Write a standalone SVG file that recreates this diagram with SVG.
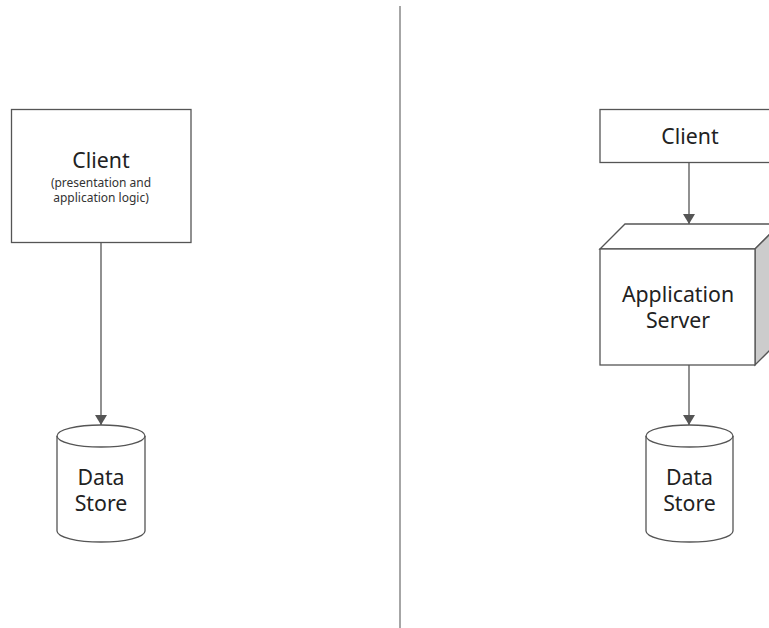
<svg xmlns="http://www.w3.org/2000/svg" width="769" height="628" viewBox="0 0 769 628">
  <defs>
    <marker id="arrow" markerWidth="10" markerHeight="12" refX="10" refY="6" orient="auto" markerUnits="userSpaceOnUse">
      <path d="M0,0 L10,6 L0,12 Z" fill="#555"/>
    </marker>
    <style>
      .box { fill: #fff; stroke: #555; stroke-width: 1.3; }
      .side { fill: #ccc; stroke: #555; stroke-width: 1.3; }
      .edge { fill: none; stroke: #555; stroke-width: 1.3; }
      .label { font-family: "Noto Sans", "Open Sans", sans-serif; fill: #222; text-anchor: middle; }
      .big { font-size: 21.3px; }
      .small { font-size: 12px; fill: #333; }
    </style>
  </defs>
  <rect width="769" height="628" fill="#fff"/>

  <!-- divider between the two architectures -->
  <line x1="400" y1="6" x2="400" y2="628" stroke="#888" stroke-width="1.5"/>

  <!-- two-tier: client -->
  <g id="left-client">
    <rect class="box" x="11.5" y="109.5" width="179.5" height="133"/>
    <text class="label big" x="101" y="168">Client</text>
    <text class="label small" x="101" y="187">(presentation and</text>
    <text class="label small" x="101" y="202">application logic)</text>
  </g>

  <!-- two-tier: data store -->
  <g id="left-store">
    <path class="box" d="M57,436 A44,11 0 0 1 145,436 L145,531 A44,11 0 0 1 57,531 Z"/>
    <path class="edge" d="M57,436 A44,11 0 0 0 145,436"/>
    <text class="label big" x="101" y="485">Data</text>
    <text class="label big" x="101" y="511">Store</text>
  </g>

  <!-- three-tier: client -->
  <g id="right-client">
    <rect class="box" x="600" y="109.5" width="180" height="53"/>
    <text class="label big" x="690" y="144">Client</text>
  </g>

  <!-- three-tier: application server -->
  <g id="right-server">
    <path class="box" d="M600,249 L625,224 L780,224 L755,249 Z"/>
    <path class="side" d="M755,249 L780,224 L780,340 L755,365 Z"/>
    <rect class="box" x="600" y="249" width="155" height="116"/>
    <text class="label big" x="678" y="302">Application</text>
    <text class="label big" x="678" y="328">Server</text>
  </g>

  <!-- three-tier: data store -->
  <g id="right-store">
    <path class="box" d="M646,436 A43.5,11 0 0 1 733,436 L733,531 A43.5,11 0 0 1 646,531 Z"/>
    <path class="edge" d="M646,436 A43.5,11 0 0 0 733,436"/>
    <text class="label big" x="689.5" y="485">Data</text>
    <text class="label big" x="689.5" y="511">Store</text>
  </g>

  <!-- connectors -->
  <g id="connectors">
    <line class="edge" x1="101" y1="242" x2="101" y2="425" marker-end="url(#arrow)"/>
    <line class="edge" x1="689" y1="162" x2="689" y2="224" marker-end="url(#arrow)"/>
    <line class="edge" x1="689" y1="365" x2="689" y2="425" marker-end="url(#arrow)"/>
  </g>
</svg>
